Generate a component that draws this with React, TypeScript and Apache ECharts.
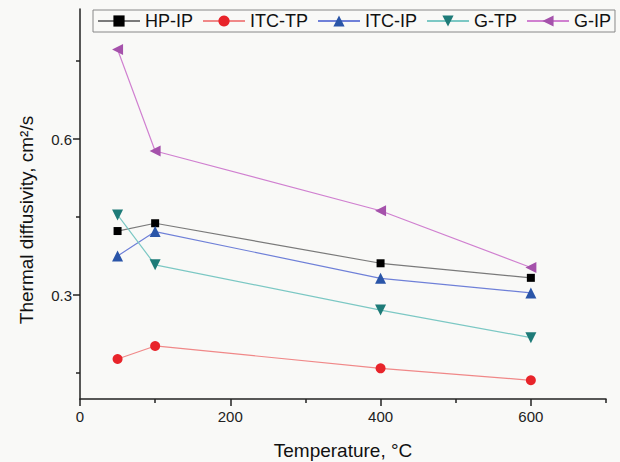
import React, { useEffect, useRef } from "react";
import * as echarts from "echarts";

const temperatures = [50, 100, 400, 600];
const hpIP = [0.423, 0.438, 0.361, 0.333];
const itcTP = [0.177, 0.202, 0.159, 0.136];
const itcIP = [0.375, 0.422, 0.332, 0.304];
const gTP = [0.454, 0.358, 0.271, 0.218];
const gIP = [0.772, 0.577, 0.462, 0.353];

const xMajorTicks = [0, 200, 400, 600];
const xMinorTicks = [100, 300, 500, 700];
const yMajorTicks = [0.3, 0.6];
const yMinorTicks = [0.15, 0.45, 0.75];

const FONT = "Liberation Sans, Arial, sans-serif";

function pairs(vals: number[]) {
  return temperatures.map((t, i) => [t, vals[i]]);
}

export default function App() {
  const ref = useRef<HTMLDivElement>(null);
  useEffect(() => {
    if (!ref.current) return;
    const chart = echarts.init(ref.current, undefined, { renderer: "svg" });
    const axisLine = { show: true, lineStyle: { color: "#222", width: 1.5 } };
    const mk = (
      name: string,
      data: number[],
      symbol: string,
      size: number,
      rotate: number,
      markerColor: string,
      lineColor: string
    ) => ({
      name,
      type: "line",
      data: pairs(data),
      symbol,
      symbolSize: size,
      symbolRotate: rotate,
      itemStyle: { color: markerColor },
      lineStyle: { color: lineColor, width: 1.2 },
      xAxisIndex: 0,
      yAxisIndex: 0,
      z: 3,
    });
    chart.setOption({
      animation: false,
      backgroundColor: "#f9f9f7",
      grid: { left: 80, right: 14, top: 9, bottom: 63, containLabel: false },
      legend: {
        left: 93,
        top: 10,
        orient: "horizontal",
        itemWidth: 42,
        itemHeight: 14,
        itemGap: 9,
        padding: [2, 4, 2, 4],
        borderColor: "#888",
        borderWidth: 1,
        textStyle: { fontFamily: FONT, fontSize: 18, color: "#111" },
        data: ["HP-IP", "ITC-TP", "ITC-IP", "G-TP", "G-IP"],
      },
      xAxis: [
        {
          type: "value",
          min: 0,
          max: 700,
          position: "bottom",
          axisLine,
          splitLine: { show: false },
          axisTick: { show: true, customValues: xMajorTicks, length: 7, lineStyle: { color: "#222", width: 1.5 } },
          axisLabel: { customValues: xMajorTicks, fontFamily: FONT, fontSize: 15, color: "#222", margin: 10 },
        },
        {
          type: "value",
          min: 0,
          max: 700,
          position: "bottom",
          axisLine: { show: false },
          splitLine: { show: false },
          axisTick: { show: true, customValues: xMinorTicks, length: 4, lineStyle: { color: "#222", width: 1.5 } },
          axisLabel: { show: false },
        },
      ],
      yAxis: [
        {
          type: "value",
          min: 0.1,
          max: 0.85,
          position: "left",
          axisLine,
          splitLine: { show: false },
          axisTick: { show: true, customValues: yMajorTicks, length: 7, lineStyle: { color: "#222", width: 1.5 } },
          axisLabel: { customValues: yMajorTicks, fontFamily: FONT, fontSize: 15, color: "#222", margin: 8, formatter: (v: number) => v.toFixed(1) },
        },
        {
          type: "value",
          min: 0.1,
          max: 0.85,
          position: "left",
          axisLine: { show: false },
          splitLine: { show: false },
          axisTick: { show: true, customValues: yMinorTicks, length: 4, lineStyle: { color: "#222", width: 1.5 } },
          axisLabel: { show: false },
        },
      ],
      graphic: [
        {
          type: "text",
          x: 26,
          y: 220,
          rotation: Math.PI / 2,
          style: {
            text: "Thermal diffusivity, cm²/s",
            fontFamily: FONT,
            fontSize: 19,
            fill: "#111",
            align: "center",
            verticalAlign: "middle",
          },
        },
        {
          type: "text",
          x: 343,
          y: 450,
          style: {
            text: "Temperature, °C",
            fontFamily: FONT,
            fontSize: 19,
            fill: "#111",
            align: "center",
            verticalAlign: "middle",
          },
        },
      ],
      series: [
        mk("HP-IP", hpIP, "rect", 8, 0, "#000000", "#7a7a7a"),
        mk("ITC-TP", itcTP, "circle", 10, 0, "#e8242a", "#f08888"),
        mk("ITC-IP", itcIP, "triangle", 11, 0, "#2a55a8", "#6f80d8"),
        mk("G-TP", gTP, "triangle", 11, 180, "#1e7b78", "#7cc8c4"),
        mk("G-IP", gIP, "triangle", 11, 90, "#a552ab", "#d080d0"),
      ],
    });
    return () => chart.dispose();
  }, []);
  return (
    <div
      ref={ref}
      style={{ position: "fixed", left: 0, top: 0, width: 620, height: 462 }}
    />
  );
}
